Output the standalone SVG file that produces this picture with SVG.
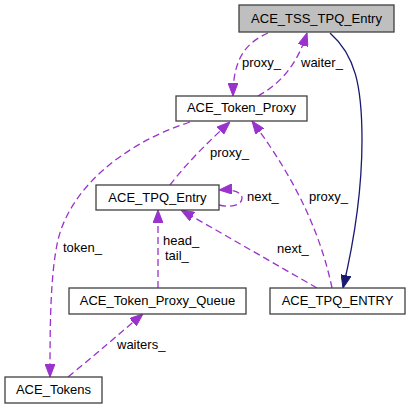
<svg xmlns="http://www.w3.org/2000/svg" width="411" height="409" viewBox="0 0 411 409">
<style>
.node rect{fill:#ffffff;stroke:#404040;stroke-width:1.3}
.node text{font-family:"Liberation Sans",Arial,sans-serif;font-size:13px;fill:#000;text-anchor:middle}
.lbl{font-family:"Liberation Sans",Arial,sans-serif;font-size:13px;fill:#000}
.dash{fill:none;stroke:#9a32cd;stroke-width:1.3;stroke-dasharray:7,4}
.solid{fill:none;stroke:#191970;stroke-width:1.3}
</style>
<defs>
<marker id="ap" markerUnits="userSpaceOnUse" viewBox="0 0 13 10" markerWidth="13" markerHeight="10" refX="13" refY="5" orient="auto"><path d="M0,0 L13,5 L0,10 z" fill="#9a32cd" stroke="#9a32cd"/></marker>
<marker id="an" markerUnits="userSpaceOnUse" viewBox="0 0 13 10" markerWidth="13" markerHeight="10" refX="13" refY="5" orient="auto"><path d="M0,0 L13,5 L0,10 z" fill="#191970" stroke="#191970"/></marker>
</defs>
<rect width="411" height="409" fill="#ffffff"/>
<g id="edges">
<path class="dash" d="M268,33 C248,42 233,56 233,96" marker-end="url(#ap)"/>
<path class="dash" d="M258,96 C283,82 298,62 307,33" marker-end="url(#ap)"/>
<path class="solid" d="M330,33 C355,55 362,85 362,140 C362,200 352,250 343,288" marker-end="url(#an)"/>
<path class="dash" d="M190,122 C120,145 70,190 58,240 C50,275 50,330 50,377" marker-end="url(#ap)"/>
<path class="dash" d="M170,185 C185,165 210,140 230,122" marker-end="url(#ap)"/>
<path class="dash" d="M219,205 C232,208 242,205 242,198 C242,192 232,189 219,190" marker-end="url(#ap)"/>
<path class="dash" d="M317,288 L181,210" marker-end="url(#ap)"/>
<path class="dash" d="M332,288 C322,240 300,185 252,121" marker-end="url(#ap)"/>
<path class="dash" d="M158,288 L158,210" marker-end="url(#ap)"/>
<path class="dash" d="M68,377 C95,355 120,333 143,314" marker-end="url(#ap)"/>
<text class="lbl" x="242" y="67">proxy_</text>
<text class="lbl" x="301" y="67">waiter_</text>
<text class="lbl" x="63" y="252">token_</text>
<text class="lbl" x="210" y="157">proxy_</text>
<text class="lbl" x="247" y="201">next_</text>
<text class="lbl" x="309" y="201">proxy_</text>
<text class="lbl" x="277" y="253">next_</text>
<text class="lbl" x="163" y="245">head_</text>
<text class="lbl" x="165" y="260">tail_</text>
<text class="lbl" x="117" y="349">waiters_</text>
</g>
<g id="node_tss" class="node"><rect x="239" y="5" width="155" height="27" style="fill:#bfbfbf"/><text x="316.5" y="23">ACE_TSS_TPQ_Entry</text></g>
<g id="node_token_proxy" class="node"><rect x="176" y="96" width="131" height="25"/><text x="241.5" y="112">ACE_Token_Proxy</text></g>
<g id="node_tpq_entry" class="node"><rect x="96" y="185" width="123" height="25"/><text x="157.5" y="202">ACE_TPQ_Entry</text></g>
<g id="node_tpq_queue" class="node"><rect x="69" y="288" width="177" height="26"/><text x="157.5" y="305">ACE_Token_Proxy_Queue</text></g>
<g id="node_tpq_ENTRY" class="node"><rect x="270" y="288" width="135" height="26"/><text x="337.5" y="305">ACE_TPQ_ENTRY</text></g>
<g id="node_tokens" class="node"><rect x="5" y="377" width="97" height="26"/><text x="53.5" y="394">ACE_Tokens</text></g>
</svg>
